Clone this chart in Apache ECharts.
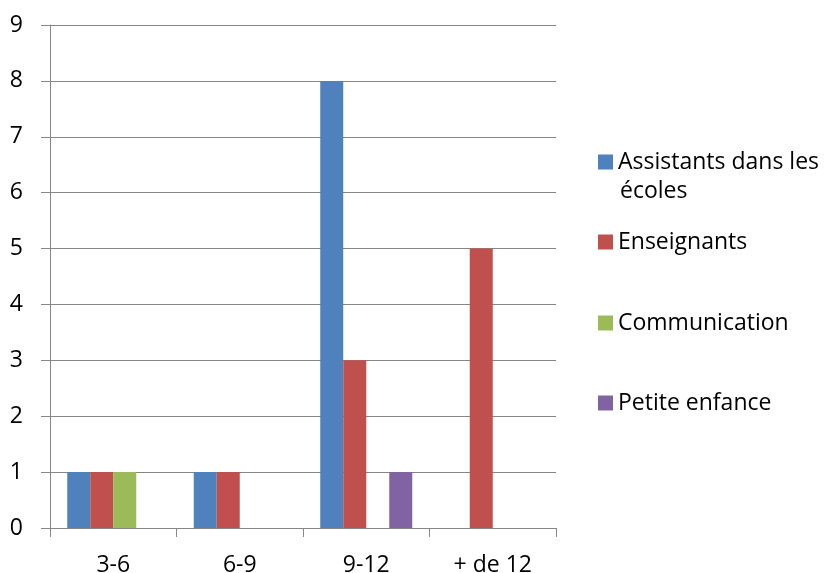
<!DOCTYPE html>
<html>
<head>
<meta charset="utf-8">
<script src="https://cdn.jsdelivr.net/npm/echarts@6/dist/echarts.min.js"></script>
<style>
html,body{margin:0;padding:0;background:#fff;}
#chart{width:824px;height:573px;}
</style>
</head>
<body>
<div id="chart"></div>
<script>
var categories = ['3-6', '6-9', '9-12', '+ de 12'];
var seriesNames = ['Assistants dans les écoles', 'Enseignants', 'Communication', 'Petite enfance'];
var assistants = [1, 1, 8, 0];
var enseignants = [1, 1, 3, 5];
var communication = [1, 0, 0, 0];
var petiteEnfance = [0, 0, 1, 0];
var yTicks = [0, 1, 2, 3, 4, 5, 6, 7, 8, 9];

var colors = ['#4F81BD', '#C0504D', '#9BBB59', '#8064A2'];
var values = [assistants, enseignants, communication, petiteEnfance];
var FONT = 'Open Sans';
var legendTops = [159, 239, 320, 400];

var chart = echarts.init(document.getElementById('chart'), null, {renderer: 'canvas'});

var legends = seriesNames.map(function (name, i) {
  var isFirst = i === 0;
  return {
    data: [name],
    orient: 'vertical',
    left: 598,
    top: legendTops[i] - 8.5,
    itemWidth: 15,
    itemHeight: 15,
    itemGap: 0,
    padding: 0,
    icon: 'rect',
    selectedMode: false,
    formatter: isFirst ? 'Assistants dans les' : '{name}',
    textStyle: {
      fontFamily: FONT,
      fontSize: 23,
      color: '#000'
    }
  };
});

var option = {
  backgroundColor: '#fff',
  color: colors,
  animation: false,
  legend: legends,
  graphic: [{
    type: 'text',
    left: 620,
    top: 180,
    style: {text: 'écoles', fontFamily: FONT, fontSize: 23, fill: '#000'}
  }],
  grid: {left: 50, right: 268, top: 25, bottom: 45, containLabel: false, outerBoundsMode: 'none'},
  xAxis: {
    type: 'category',
    data: categories,
    axisLine: {lineStyle: {color: '#868686', width: 1}},
    axisTick: {show: true, length: 9, alignWithLabel: false, lineStyle: {color: '#868686'}},
    axisLabel: {fontFamily: FONT, fontSize: 23, color: '#000', margin: 26},
    splitLine: {show: false}
  },
  yAxis: {
    type: 'value',
    min: yTicks[0],
    max: yTicks[yTicks.length - 1],
    interval: 1,
    axisLine: {show: true, lineStyle: {color: '#868686', width: 1}},
    axisTick: {show: true, length: 9, lineStyle: {color: '#868686'}},
    axisLabel: {fontFamily: FONT, fontSize: 23, color: '#000', margin: 27},
    splitLine: {show: true, lineStyle: {color: '#868686', width: 1}}
  },
  series: seriesNames.map(function (name, i) {
    return {
      name: name,
      type: 'bar',
      data: values[i],
      barWidth: 23,
      barGap: '0%',
      itemStyle: {color: colors[i]}
    };
  })
};
chart.setOption(option);
</script>
</body>
</html>
